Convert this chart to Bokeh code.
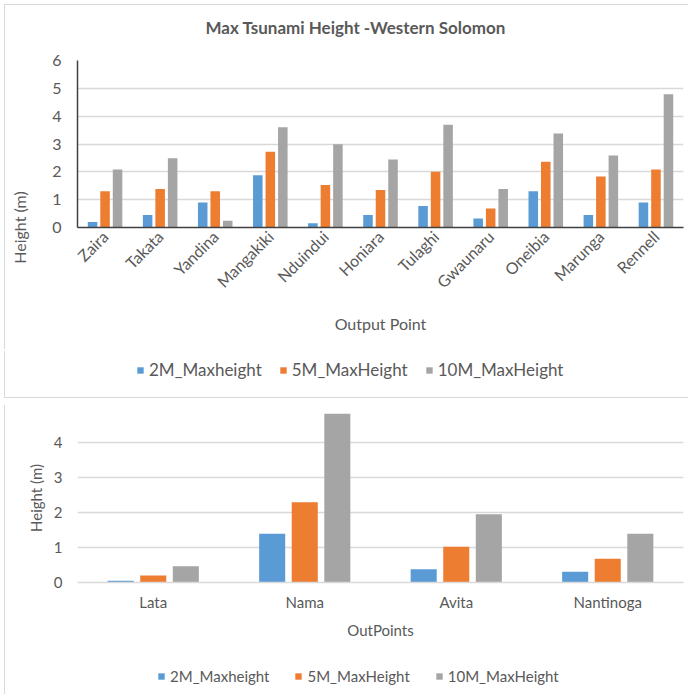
import math
from bokeh.plotting import figure
from bokeh.models import FactorRange, Range1d, FixedTicker, Legend, LegendItem, ColumnDataSource, Title
from bokeh.transform import dodge
from bokeh.layouts import column
from bokeh.embed import file_html
from bokeh.resources import INLINE

# ---------------- data ----------------
top_points = ["Zaira", "Takata", "Yandina", "Mangakiki", "Nduindui", "Honiara",
              "Tulaghi", "Gwaunaru", "Oneibia", "Marunga", "Rennell"]
top_2m = [0.2, 0.45, 0.9, 1.88, 0.15, 0.45, 0.77, 0.32, 1.3, 0.45, 0.9]
top_5m = [1.3, 1.38, 1.3, 2.72, 1.53, 1.35, 2.0, 0.68, 2.36, 1.83, 2.08]
top_10m = [2.08, 2.49, 0.24, 3.6, 2.99, 2.44, 3.69, 1.38, 3.38, 2.59, 4.79]

bottom_points = ["Lata", "Nama", "Avita", "Nantinoga"]
bottom_2m = [0.05, 1.39, 0.38, 0.31]
bottom_5m = [0.2, 2.29, 1.02, 0.68]
bottom_10m = [0.46, 4.85, 1.95, 1.39]

series_names = ["2M_Maxheight", "5M_MaxHeight", "10M_MaxHeight"]
top_yticks = [0, 1, 2, 3, 4, 5, 6]
bottom_yticks = [0, 1, 2, 3, 4]
top_title = "Max Tsunami Height -Western Solomon"

colors = ["#5B9BD5", "#ED7D31", "#A5A5A5"]
TXT = "#595959"
GRID = "#d9d9d9"
FONT = "Lato"
FIG_W = 684


def make_chart(src, points, ymax, yticks, height, border_top, frame_h,
               font_px, xrot, offset, bw, xlabel, title=None, dark_axes=True,
               lab_standoff_y=16, axlab_standoff_y=20, lab_standoff_x=6, axlab_standoff_x=18,
               ylabel_align="center", margin=(0, 0, 0, 5)):
    p = figure(x_range=FactorRange(factors=points, range_padding=0),
               y_range=Range1d(0, ymax), width=FIG_W, height=height,
               output_backend="svg", toolbar_location=None, title=None,
               min_border_left=72, min_border_right=FIG_W - 72 - 606,
               min_border_top=border_top,
               min_border_bottom=height - border_top - frame_h,
               margin=margin)
    for key, off, c in zip(["s2", "s5", "s10"], [-offset, 0, offset], colors):
        p.vbar(x=dodge("point", off, range=p.x_range), top=key, width=bw,
               source=src, fill_color=c, line_color=None)
    p.outline_line_color = None
    p.background_fill_color = "white"
    p.border_fill_color = "white"
    p.xgrid.grid_line_color = None
    p.ygrid.grid_line_color = GRID
    p.ygrid.grid_line_width = 1.3
    p.yaxis.ticker = FixedTicker(ticks=yticks)
    for ax in (p.xaxis[0], p.yaxis[0]):
        ax.major_tick_line_color = None
        ax.minor_tick_line_color = None
        ax.major_tick_out = 0
        ax.major_tick_in = 0
        ax.minor_tick_out = 0
        ax.major_label_text_color = TXT
        ax.major_label_text_font = FONT
        ax.axis_label_text_color = TXT
        ax.axis_label_text_font = FONT
        ax.axis_label_text_font_style = "normal"
        ax.axis_label_text_font_size = f"{font_px}px"
    p.xaxis.major_label_text_font_size = f"{font_px}px"
    p.yaxis.major_label_text_font_size = f"{font_px}px"
    p.xaxis.major_label_orientation = xrot
    p.yaxis.axis_label = "Height (m)"
    p.yaxis.axis_label_align = ylabel_align
    p.xaxis.axis_label = xlabel
    p.yaxis.major_label_standoff = lab_standoff_y
    p.yaxis.axis_label_standoff = axlab_standoff_y
    p.xaxis.major_label_standoff = lab_standoff_x
    p.xaxis.axis_label_standoff = axlab_standoff_x
    if dark_axes:
        p.xaxis.axis_line_color = "#404040"
        p.yaxis.axis_line_color = "#404040"
        p.xaxis.axis_line_width = 1.5
        p.yaxis.axis_line_width = 1.5
    else:
        p.xaxis.axis_line_color = GRID
        p.xaxis.axis_line_width = 1.3
        p.yaxis.axis_line_color = None
    if title:
        # empty spacer between frame and title, then the title itself
        p.add_layout(Title(text=" ", text_font_size="1px", standoff=20), "above")
        p.add_layout(Title(text=title, align="left", offset=128, standoff=0,
                           text_font=FONT, text_font_size="17px", text_font_style="bold",
                           text_color=TXT), "above")
    return p


def make_legend(src, points, height, font_px, loc, spacing, margin=(0, 0, 0, 5)):
    # legend strip: the same series as hidden renderers, only their legend entries show
    q = figure(width=FIG_W, height=height, output_backend="svg", toolbar_location=None,
               x_range=FactorRange(factors=points), y_range=Range1d(-2, -1),
               x_axis_location=None, y_axis_location=None,
               min_border=0, min_border_left=0, min_border_right=0,
               min_border_top=0, min_border_bottom=0, margin=margin)
    q.outline_line_color = None
    q.grid.grid_line_color = None
    q.border_fill_color = "white"
    q.background_fill_color = "white"
    rs = [q.vbar(x="point", top=key, width=0.2, source=src, fill_color=c, line_color=None,
                 visible=False)
          for key, c in zip(["s2", "s5", "s10"], colors)]
    legend = Legend(items=[LegendItem(label=n, renderers=[r]) for n, r in zip(series_names, rs)],
                    orientation="horizontal", location=loc,
                    label_text_font=FONT, label_text_font_size=f"{font_px}px",
                    label_text_color=TXT, glyph_width=8, glyph_height=8,
                    label_standoff=5, spacing=spacing, padding=0, margin=0,
                    inactive_fill_alpha=0,
                    border_line_color=None, background_fill_alpha=0)
    q.add_layout(legend, "center")
    return q


top_src = ColumnDataSource(dict(point=top_points, s2=top_2m, s5=top_5m, s10=top_10m))
bottom_src = ColumnDataSource(dict(point=bottom_points, s2=bottom_2m, s5=bottom_5m, s10=bottom_10m))

top = make_chart(top_src, top_points, 6, top_yticks,
                 height=345, border_top=55, frame_h=167, font_px=16, xrot=math.pi / 4,
                 offset=0.227, bw=0.173, xlabel="Output Point",
                 title=top_title, dark_axes=True,
                 lab_standoff_y=16, axlab_standoff_y=20, lab_standoff_x=6,
                 axlab_standoff_x=13, ylabel_align="start", margin=(5, 0, 0, 5))
top.styles = {"box-shadow": "-1px -1px 0 #d9d9d9"}

top_leg = make_legend(top_src, top_points, 47, 17, (59, 17), 17)
top_leg.styles = {"box-shadow": "-1px 1px 0 #d9d9d9"}

bottom = make_chart(bottom_src, bottom_points, 4.82, bottom_yticks,
                    height=245, border_top=8, frame_h=169, font_px=15, xrot="horizontal",
                    offset=0.215, bw=0.172, xlabel="OutPoints", dark_axes=False,
                    lab_standoff_y=15, axlab_standoff_y=6, lab_standoff_x=10,
                    axlab_standoff_x=7, ylabel_align="center", margin=(8, 0, 0, 5))
bottom.styles = {"box-shadow": "-1px 0 0 #d9d9d9"}

bottom_leg = make_legend(bottom_src, bottom_points, 44, 15, (80, 9), 25)
bottom_leg.styles = {"box-shadow": "-1px 0 0 #d9d9d9"}

layout = column(top, top_leg, bottom, bottom_leg, spacing=0)
open("out.html", "w").write(file_html(layout, INLINE))
